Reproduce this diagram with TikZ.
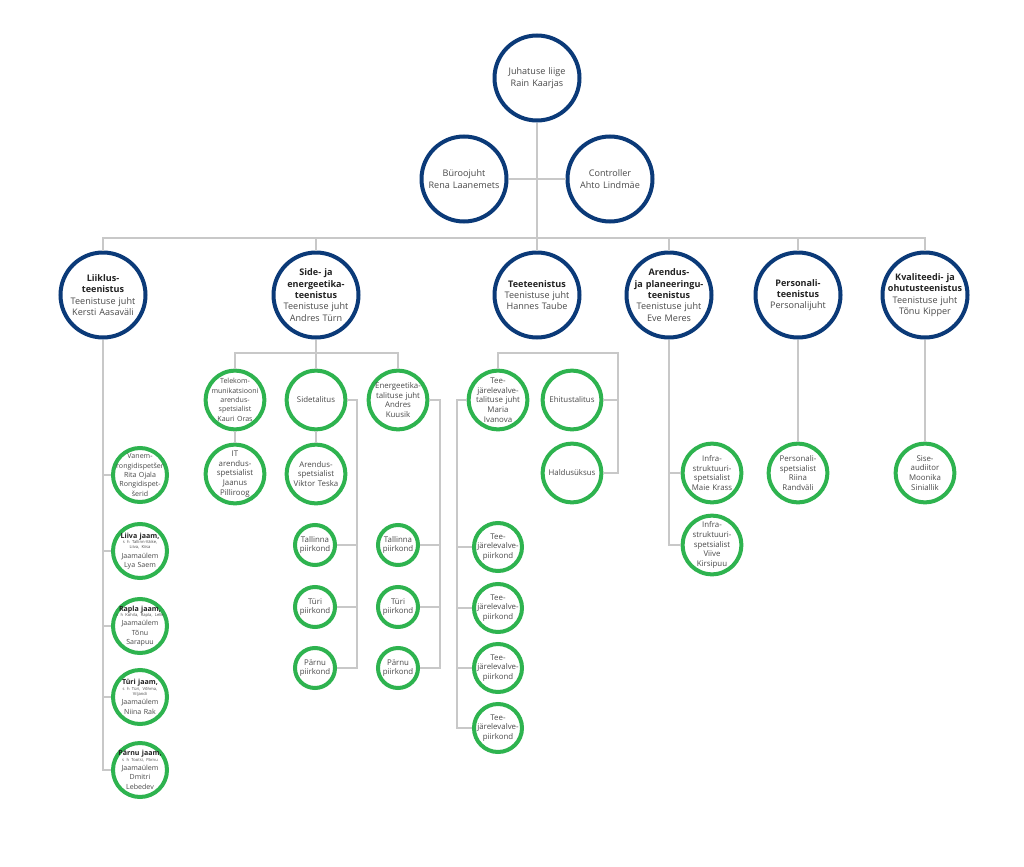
\documentclass[tikz,border=0pt]{standalone}
\usepackage{fontspec}
\setmainfont{Open Sans}
\definecolor{navy}{HTML}{0B3A78}
\definecolor{ggreen}{HTML}{2EB34F}
\definecolor{lgray}{HTML}{C8C8C8}
\definecolor{tgray}{HTML}{4A4A4A}
\definecolor{hgray}{HTML}{222222}
\newcommand{\hd}[1]{{\bfseries\color{hgray}#1}}
\newcommand{\sh}[1]{{\fontsize{3.1}{4}\selectfont #1\par}}
\tikzset{
  bigc/.style={circle, draw=navy, line width=3pt, fill=white, minimum size=63.75pt, inner sep=0pt},
  greenc/.style={circle, draw=ggreen, line width=3pt, fill=white, minimum size=#1, inner sep=0pt},
  greenc/.default=44pt,
  bigt/.style={align=center, text=tgray, text width=80pt, font=\fontsize{6.8}{8.5}\selectfont, inner sep=0pt},
  greent/.style={align=center, text=tgray, text width=60pt, font=\fontsize{5.9}{7.3}\selectfont, inner sep=0pt},
  jaamt/.style={greent, font=\fontsize{5.3}{7}\selectfont},
  conn/.style={draw=lgray, line width=1.1pt},
}

\begin{document}
\begin{tikzpicture}[x=0.75pt,y=0.75pt,yscale=-1,xscale=1]
\fill[white] (0,0) rectangle (1024,867);
\useasboundingbox (0,0) rectangle (1024,867);

% Text Node
\node[bigc] (juht) at (537,78) {};
\node[bigt] (juhtt) at (juht) {Juhatuse liige\\Rain Kaarjas};
% Text Node
\node[bigc] (buro) at (464,179) {};
\node[bigt] (burot) at (buro) {Büroojuht\\Rena Laanemets};
% Text Node
\node[bigc] (contr) at (610,179) {};
\node[bigt] (contrt) at (contr) {Controller\\Ahto Lindmäe};

% Text Node
\node[bigc] (liiklus) at (103,295) {};
\node[bigt] (liiklust) at (liiklus) {\hd{Liiklus-\\teenistus}\\Teenistuse juht\\Kersti Aasaväli};
% Text Node
\node[bigc] (side) at (316,295) {};
\node[bigt] (sidet) at (side) {\hd{Side- ja\\energeetika-\\teenistus}\\Teenistuse juht\\Andres Türn};
% Text Node
\node[bigc] (tee) at (537,295) {};
\node[bigt] (teet) at (tee) {\hd{Teeteenistus}\\Teenistuse juht\\Hannes Taube};
% Text Node
\node[bigc] (arendus) at (669,295) {};
\node[bigt] (arendust) at (arendus) {\hd{Arendus-\\ja planeeringu-\\teenistus}\\Teenistuse juht\\Eve Meres};
% Text Node
\node[bigc] (personal) at (798,295) {};
\node[bigt] (personalt) at (personal) {\hd{Personali-\\teenistus}\\Personalijuht};
% Text Node
\node[bigc] (kval) at (925,295) {};
\node[bigt] (kvalt) at (kval) {\hd{Kvaliteedi- ja\\ohutusteenistus}\\Teenistuse juht\\Tõnu Kipper};

% Text Node
\node[greenc=40.5pt] (vanem) at (140,475) {};
\node[jaamt] (vanemt) at (vanem) {Vanem-\\rongidispetšer\\Rita Ojala\\Rongidispet-\\šerid};
% Text Node
\node[greenc=40.5pt] (liiva) at (140,551) {};
\node[jaamt] (liivat) at (liiva) {\hd{Liiva jaam,}\par\sh{s h Tallinn-Väike,\\Liiva, Kiisa}Jaamaülem\\Lya Saem};
% Text Node
\node[greenc=40.5pt] (rapla) at (140,626) {};
\node[jaamt] (raplat) at (rapla) {\hd{Rapla jaam,}\par\sh{s h Kohila, Rapla, Lelle}Jaamaülem\\Tõnu\\Sarapuu};
% Text Node
\node[greenc=40.5pt] (turij) at (140,697) {};
\node[jaamt] (turijt) at (turij) {\hd{Türi jaam,}\par\sh{s h Türi, Võhma,\\Viljandi}Jaamaülem\\Niina Rak};
% Text Node
\node[greenc=40.5pt] (parnuj) at (140,770) {};
\node[jaamt] (parnujt) at (parnuj) {\hd{Pärnu jaam,}\par\sh{s h Tootsi, Pärnu}Jaamaülem\\Dmitri\\Lebedev};

% Text Node
\node[greenc] (telekom) at (235,400) {};
\node[jaamt] (telekomt) at (telekom) {Telekom-\\munikatsiooni\\arendus-\\spetsialist\\Kauri Oras};
% Text Node
\node[greenc] (sidetal) at (316,400) {};
\node[greent] (sidetalt) at (sidetal) {Sidetalitus};
% Text Node
\node[greenc] (energ) at (398,400) {};
\node[greent] (energt) at (energ) {Energeetika-\\talituse juht\\Andres\\Kuusik};
% Text Node
\node[greenc] (itsp) at (235,474) {};
\node[greent] (itspt) at (itsp) {IT\\arendus-\\spetsialist\\Jaanus\\Pilliroog};
% Text Node
\node[greenc] (arsp) at (316,474) {};
\node[greent] (arspt) at (arsp) {Arendus-\\spetsialist\\Viktor Teska};

% Text Node
\node[greenc=30pt] (talls) at (315,545) {};
\node[greent] (tallst) at (talls) {Tallinna\\piirkond};
\node[greenc=30pt] (turis) at (315,607) {};
\node[greent] (turist) at (turis) {Türi\\piirkond};
\node[greenc=30pt] (parnus) at (315,668) {};
\node[greent] (parnust) at (parnus) {Pärnu\\piirkond};
% Text Node
\node[greenc=30pt] (talle) at (398,545) {};
\node[greent] (tallet) at (talle) {Tallinna\\piirkond};
\node[greenc=30pt] (turie) at (398,607) {};
\node[greent] (turiet) at (turie) {Türi\\piirkond};
\node[greenc=30pt] (parnue) at (398,668) {};
\node[greent] (parnuet) at (parnue) {Pärnu\\piirkond};

% Text Node
\node[greenc] (teejuht) at (498,400) {};
\node[greent] (teejuhtt) at (teejuht) {Tee-\\järelevalve-\\talituse juht\\Maria\\Ivanova};
% Text Node
\node[greenc] (ehitus) at (572,400) {};
\node[greent] (ehitust) at (ehitus) {Ehitustalitus};
% Text Node
\node[greenc] (haldus) at (572,473) {};
\node[greent] (haldust) at (haldus) {Haldusüksus};
% Text Node
\node[greenc=36pt] (tjp1) at (498,547) {};
\node[greent] (tjp1t) at (tjp1) {Tee-\\järelevalve-\\piirkond};
\node[greenc=36pt] (tjp2) at (498,608) {};
\node[greent] (tjp2t) at (tjp2) {Tee-\\järelevalve-\\piirkond};
\node[greenc=36pt] (tjp3) at (498,668) {};
\node[greent] (tjp3t) at (tjp3) {Tee-\\järelevalve-\\piirkond};
\node[greenc=36pt] (tjp4) at (498,728) {};
\node[greent] (tjp4t) at (tjp4) {Tee-\\järelevalve-\\piirkond};

% Text Node
\node[greenc] (infra1) at (712,473) {};
\node[greent] (infra1t) at (infra1) {Infra-\\struktuuri-\\spetsialist\\Maie Krass};
\node[greenc] (infra2) at (712,545) {};
\node[greent] (infra2t) at (infra2) {Infra-\\struktuuri-\\spetsialist\\Viive\\Kirsipuu};
% Text Node
\node[greenc] (persp) at (798,473) {};
\node[greent] (perspt) at (persp) {Personali-\\spetsialist\\Riina\\Randväli};
% Text Node
\node[greenc] (sise) at (925,473) {};
\node[greent] (siset) at (sise) {Sise-\\audiitor\\Moonika\\Siniallik};

% Connection
\coordinate (bus) at (537,238);
\draw[conn] (buro) -- (contr);
\draw[conn] (juht) -- (tee);
\draw[conn] (liiklus.north) -- (liiklus.north |- bus) -- (kval.north |- bus) -- (kval.north);
\draw[conn] (side) -- (side |- bus);
\draw[conn] (arendus) -- (arendus |- bus);
\draw[conn] (personal) -- (personal |- bus);

% Connection
\draw[conn] (liiklus.south) |- (parnuj.west);
\draw[conn] (vanem.west) -- (vanem.west -| liiklus.south);
\draw[conn] (liiva.west) -- (liiva.west -| liiklus.south);
\draw[conn] (rapla.west) -- (rapla.west -| liiklus.south);
\draw[conn] (turij.west) -- (turij.west -| liiklus.south);

% Connection
\coordinate (sidebus) at (316,353);
\draw[conn] (side) -- (sidetal);
\draw[conn] (telekom.north) |- (sidebus) -| (energ.north);
\draw[conn] (telekom) -- (itsp);
\draw[conn] (sidetal) -- (arsp);
\coordinate (sidetr) at (357,668);
\draw[conn] (sidetal.east) -| (sidetr) -- (parnus.east);
\draw[conn] (talls.east) -- (talls.east -| sidetr);
\draw[conn] (turis.east) -- (turis.east -| sidetr);
\coordinate (energtr) at (440,668);
\draw[conn] (energ.east) -| (energtr) -- (parnue.east);
\draw[conn] (talle.east) -- (talle.east -| energtr);
\draw[conn] (turie.east) -- (turie.east -| energtr);

% Connection
\coordinate (teebus) at (537,353);
\coordinate (teetr) at (618,473);
\draw[conn] (teejuht.north) |- (teebus) -| (teetr) -- (haldus.east);
\draw[conn] (ehitus.east) -- (ehitus.east -| teetr);
\coordinate (tjtr) at (457,728);
\draw[conn] (teejuht.west) -| (tjtr) -- (tjp4.west);
\draw[conn] (tjp1.west) -- (tjp1.west -| tjtr);
\draw[conn] (tjp2.west) -- (tjp2.west -| tjtr);
\draw[conn] (tjp3.west) -- (tjp3.west -| tjtr);

% Connection
\draw[conn] (arendus.south) |- (infra2.west);
\draw[conn] (infra1.west) -- (infra1.west -| arendus.south);
\draw[conn] (personal) -- (persp);
\draw[conn] (kval) -- (sise);

\end{tikzpicture}
\end{document}
